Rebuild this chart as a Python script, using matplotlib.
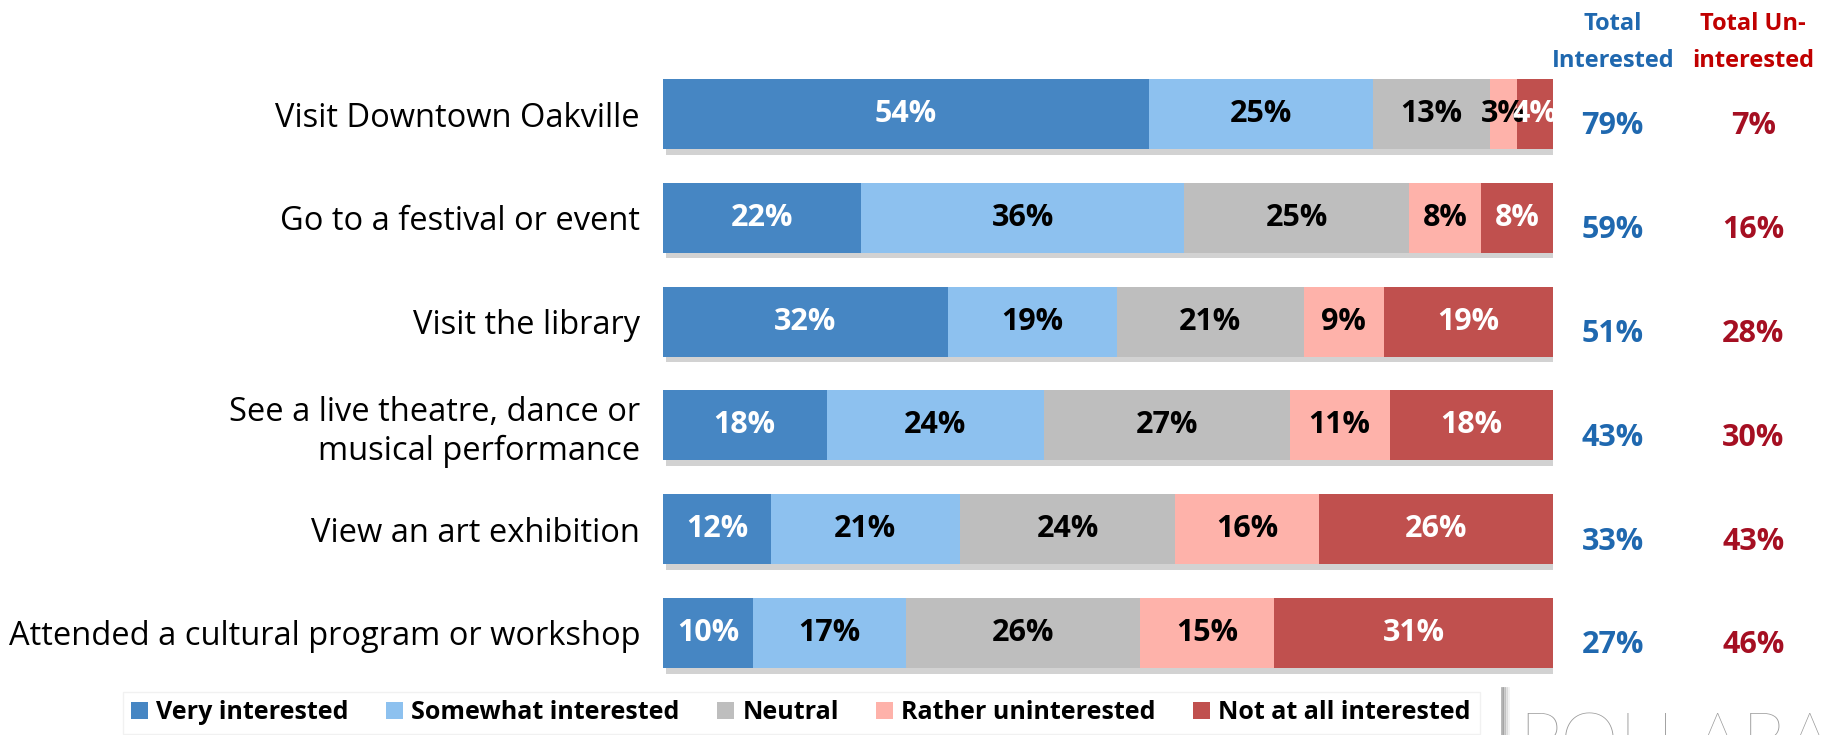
import matplotlib
matplotlib.use('Agg')
import matplotlib.pyplot as plt
import matplotlib.patheffects as pe
from matplotlib.patches import Patch
from matplotlib.transforms import blended_transform_factory
from matplotlib.lines import Line2D
import numpy as np

plt.rcParams['font.family'] = ['Open Sans', 'DejaVu Sans']

categories = [
    "Visit Downtown Oakville",
    "Go to a festival or event",
    "Visit the library",
    "See a live theatre, dance or\nmusical performance",
    "View an art exhibition",
    "Attended a cultural program or workshop",
]
series_names = ["Very interested", "Somewhat interested", "Neutral",
                "Rather uninterested", "Not at all interested"]
very = [54, 22, 32, 18, 12, 10]
somewhat = [25, 36, 19, 24, 21, 17]
neutral = [13, 25, 21, 27, 24, 26]
rather = [3, 8, 9, 11, 16, 15]
notatall = [4, 8, 19, 18, 26, 31]
total_interested = [79, 59, 51, 43, 33, 27]
total_uninterested = [7, 16, 28, 30, 43, 46]

colors = ["#4686C3", "#8DC1EF", "#BEBEBE", "#FEB2AA", "#C0504E"]
text_colors = ["white", "black", "black", "black", "white"]
blue_txt = "#1F68AF"
red_hdr = "#C00000"
red_txt = "#A50F22"

fig = plt.figure(figsize=(18.25, 7.35), dpi=100)
ax = fig.add_axes([0.3633, 0.0682, 0.4877, 0.8473])

data = np.array([very, somewhat, neutral, rather, notatall], dtype=float)
scaled = data / data.sum(axis=0) * 100
ypos = np.arange(len(categories))
left = np.zeros(len(categories))
shadow = [pe.SimplePatchShadow(offset=(2.5, -4), shadow_rgbFace="#7f7f7f", alpha=0.35), pe.Normal()]
for k in range(len(series_names)):
    ax.barh(ypos, scaled[k], left=left, height=0.674, color=colors[k],
            path_effects=shadow, zorder=2)
    for i in range(len(categories)):
        ax.text(left[i] + scaled[k, i] / 2, ypos[i], f"{data[k, i]:.0f}%",
                ha="center", va="center", color=text_colors[k],
                fontsize=22, fontweight="bold", zorder=3)
    left += scaled[k]

ax.set_xlim(0, 100)
ax.set_ylim(len(categories) - 0.5, -0.5)
ax.set_yticks(ypos, categories, fontsize=23.5)
ax.tick_params(axis="y", length=0, pad=16.5)
ax.set_xticks([])
for s in ax.spines.values():
    s.set_visible(False)

ytr = ax.get_yaxis_transform()
for i in range(len(categories)):
    ax.text(1.067, ypos[i] + 0.12, f"{total_interested[i]}%", transform=ytr,
            ha="center", va="center", fontsize=22, fontweight="bold",
            color=blue_txt, clip_on=False)
    ax.text(1.225, ypos[i] + 0.12, f"{total_uninterested[i]}%", transform=ytr,
            ha="center", va="center", fontsize=22, fontweight="bold",
            color=red_txt, clip_on=False)

htr = blended_transform_factory(ax.transAxes, fig.transFigure)
fig.text(1.067, 1 - 24 / 735, "Total", transform=htr, ha="center", va="center",
         fontsize=17, fontweight="bold", color=blue_txt)
fig.text(1.067, 1 - 61 / 735, "Interested", transform=htr, ha="center", va="center",
         fontsize=17, fontweight="bold", color=blue_txt)
fig.text(1.225, 1 - 24 / 735, "Total Un-", transform=htr, ha="center", va="center",
         fontsize=17, fontweight="bold", color=red_hdr)
fig.text(1.225, 1 - 61 / 735, "interested", transform=htr, ha="center", va="center",
         fontsize=17, fontweight="bold", color=red_hdr)

handles = [Patch(facecolor=c, edgecolor="none") for c in colors]
leg = fig.legend(handles, series_names, loc="center", bbox_to_anchor=(0.439, 0.03),
                 ncol=5, frameon=True, fancybox=False, edgecolor="#eeeeee",
                 prop={"weight": "bold", "size": 18}, handlelength=0.65,
                 handleheight=0.65, handletextpad=0.35, columnspacing=1.5,
                 borderpad=0.35)

# logo
fig.text(1518 / 1825, 1 - 712 / 735, "POLLARA", fontsize=54, family=["Lato", "DejaVu Sans"],
         fontweight="light", color="#9a9a9a", va="top", ha="left")
for dx, a in [(0, 0.6), (2, 0.4), (4, 0.22), (6, 0.1)]:
    fig.add_artist(Line2D([(1502 + dx) / 1825] * 2, [0, 1 - 688 / 735],
                          transform=fig.transFigure, color="#808080", alpha=a, lw=2))

fig.savefig("out.png", dpi=100, facecolor="white")
